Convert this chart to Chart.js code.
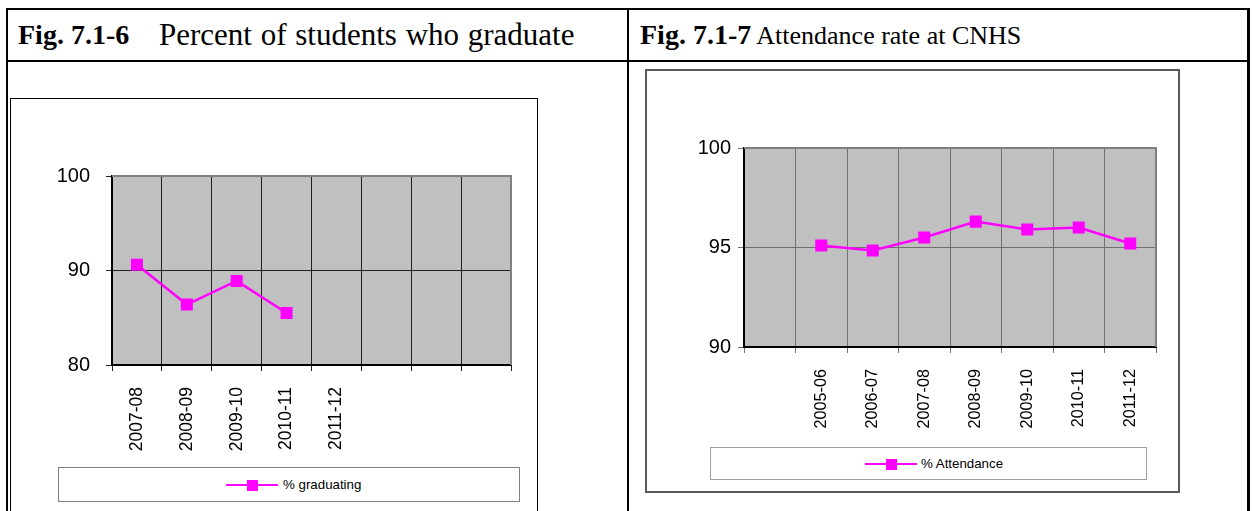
<!DOCTYPE html>
<html><head><meta charset="utf-8">
<script src="https://cdn.jsdelivr.net/npm/chart.js@4.4.0/dist/chart.umd.min.js"></script>
<style>
html,body{margin:0;padding:0;background:#fff;width:1252px;height:511px;overflow:hidden;position:relative}
.ln{position:absolute;background:#000}
.hdr{position:absolute;font-family:'Liberation Serif','Times New Roman',serif;font-size:28px;color:#000;white-space:pre;line-height:1}
.box{position:absolute;box-sizing:border-box;background:#fff}
canvas{position:absolute}
.leg{position:absolute;box-sizing:border-box;background:#fff}
.legline{position:absolute;height:2px;background:#ff00ff}
.legmk{position:absolute;width:11px;height:11px;background:#ff00ff}
.legtxt{position:absolute;font-family:'Liberation Sans',Arial,sans-serif;font-size:13.3px;line-height:1;white-space:pre;color:#000}
</style></head>
<body>
<div class="ln" style="left:6px;top:8px;width:1244px;height:2px"></div>
<div class="ln" style="left:6px;top:60px;width:1244px;height:2px"></div>
<div class="ln" style="left:6px;top:8px;width:2px;height:503px"></div>
<div class="ln" style="left:627px;top:8px;width:2px;height:503px"></div>
<div class="ln" style="left:1247px;top:8px;width:3px;height:503px"></div>
<div class="hdr" style="left:18px;top:21px"><b>Fig. 7.1-6</b></div>
<div class="hdr" style="left:159px;top:19px;font-size:31px;word-spacing:1px">Percent of students who graduate</div>
<div class="hdr" style="left:640px;top:21px"><b>Fig. 7.1-7</b><span style="font-size:26px"> Attendance rate at CNHS</span></div>

<div class="box" style="left:10px;top:98px;width:528px;height:430px;border:1px solid #000"></div>
<canvas id="c1" width="526" height="412" style="left:11px;top:99px"></canvas>
<div class="leg" style="left:58px;top:467px;width:462px;height:35px;border:1px solid #808080">
  <div class="legline" style="left:167px;top:16px;width:52px"></div>
  <div class="legmk" style="left:188px;top:12px"></div>
  <div class="legtxt" id="lt1" style="left:224px;top:10px"></div>
</div>

<div class="box" style="left:645px;top:69px;width:535px;height:424px;border:2px solid #5a5a5a"></div>
<canvas id="c2" width="531" height="420" style="left:647px;top:71px"></canvas>
<div class="leg" style="left:710px;top:447px;width:437px;height:33px;border:1px solid #a0a0a0">
  <div class="legline" style="left:154px;top:15px;width:52px"></div>
  <div class="legmk" style="left:175px;top:11px"></div>
  <div class="legtxt" id="lt2" style="left:210px;top:9px"></div>
</div>

<script>
// ---- data ----
const gradCategories = ['2007-08','2008-09','2009-10','2010-11','2011-12','','',''];
const gradValues = [90.6, 86.4, 88.9, 85.5, null, null, null, null];
const gradTicks = [80, 90, 100];
const gradSeriesName = '% graduating';

const attCategories = ['','2005-06','2006-07','2007-08','2008-09','2009-10','2010-11','2011-12'];
const attValues = [null, 95.1, 94.85, 95.5, 96.3, 95.9, 96.0, 95.2];
const attTicks = [90, 95, 100];
const attSeriesName = '% Attendance';

document.getElementById('lt1').textContent = gradSeriesName;
document.getElementById('lt2').textContent = attSeriesName;

const plotFrame = {
  id: 'plotFrame',
  beforeDraw(chart) {
    const {ctx, chartArea: a} = chart;
    ctx.save();
    ctx.fillStyle = '#c0c0c0';
    ctx.fillRect(a.left, a.top, a.right - a.left, a.bottom - a.top);
    ctx.restore();
  },
  beforeDatasetsDraw(chart) {
    const {ctx, chartArea: a} = chart;
    ctx.save();
    ctx.strokeStyle = '#808080';
    ctx.lineWidth = 2;
    ctx.beginPath();
    ctx.moveTo(a.left, a.top);
    ctx.lineTo(a.right, a.top);
    ctx.lineTo(a.right, a.bottom);
    ctx.stroke();
    ctx.restore();
  }
};

function makeChart(id, cats, vals, ticks, name, o) {
  return new Chart(document.getElementById(id), {
    type: 'line',
    data: {
      labels: cats,
      datasets: [{
        label: name,
        data: vals,
        borderColor: '#ff00ff',
        borderWidth: 2.5,
        pointStyle: 'rect',
        pointRadius: 8.5,
        pointBackgroundColor: '#ff00ff',
        pointBorderWidth: 0,
        tension: 0,
        spanGaps: false
      }]
    },
    options: {
      responsive: false,
      animation: false,
      events: [],
      layout: {padding: {left: 0, top: o.padTop, right: o.padRight, bottom: 0}},
      plugins: {legend: {display: false}, tooltip: {enabled: false}},
      scales: {
        x: {
          type: 'category',
          offset: true,
          grid: {offset: true, color: o.gridColor, lineWidth: 1, tickLength: 6, tickColor: o.gridColor, drawTicks: true},
          border: {display: true, color: '#000', width: 2},
          ticks: {autoSkip: false, minRotation: 90, maxRotation: 90, padding: o.xPad, color: '#000',
                  font: {family: "'Liberation Sans',Arial,sans-serif", size: o.xFont}},
          afterFit(s) { s.height = o.xHeight; }
        },
        y: {
          min: ticks[0], max: ticks[ticks.length - 1],
          afterBuildTicks(s) { s.ticks = ticks.map(v => ({value: v})); },
          grid: {color: o.gridColor, lineWidth: 1, tickLength: 6, tickColor: o.gridColor, drawTicks: true},
          border: {display: true, color: '#000', width: 2},
          ticks: {padding: o.yPad, color: '#000', font: {family: "'Liberation Sans',Arial,sans-serif", size: o.yFont}},
          afterFit(s) { s.width = o.yWidth; }
        }
      }
    },
    plugins: [plotFrame]
  });
}

makeChart('c1', gradCategories, gradValues, gradTicks, gradSeriesName,
  {padTop: 77, padRight: 26, xHeight: 146, yWidth: 101, gridColor: '#202020', xPad: 16, yPad: 16, xFont: 17.5, yFont: 20});
makeChart('c2', attCategories, attValues, attTicks, attSeriesName,
  {padTop: 77, padRight: 22, xHeight: 144, yWidth: 97, gridColor: '#707070', xPad: 16, yPad: 7, xFont: 16.2, yFont: 20});
</script>
</body></html>
